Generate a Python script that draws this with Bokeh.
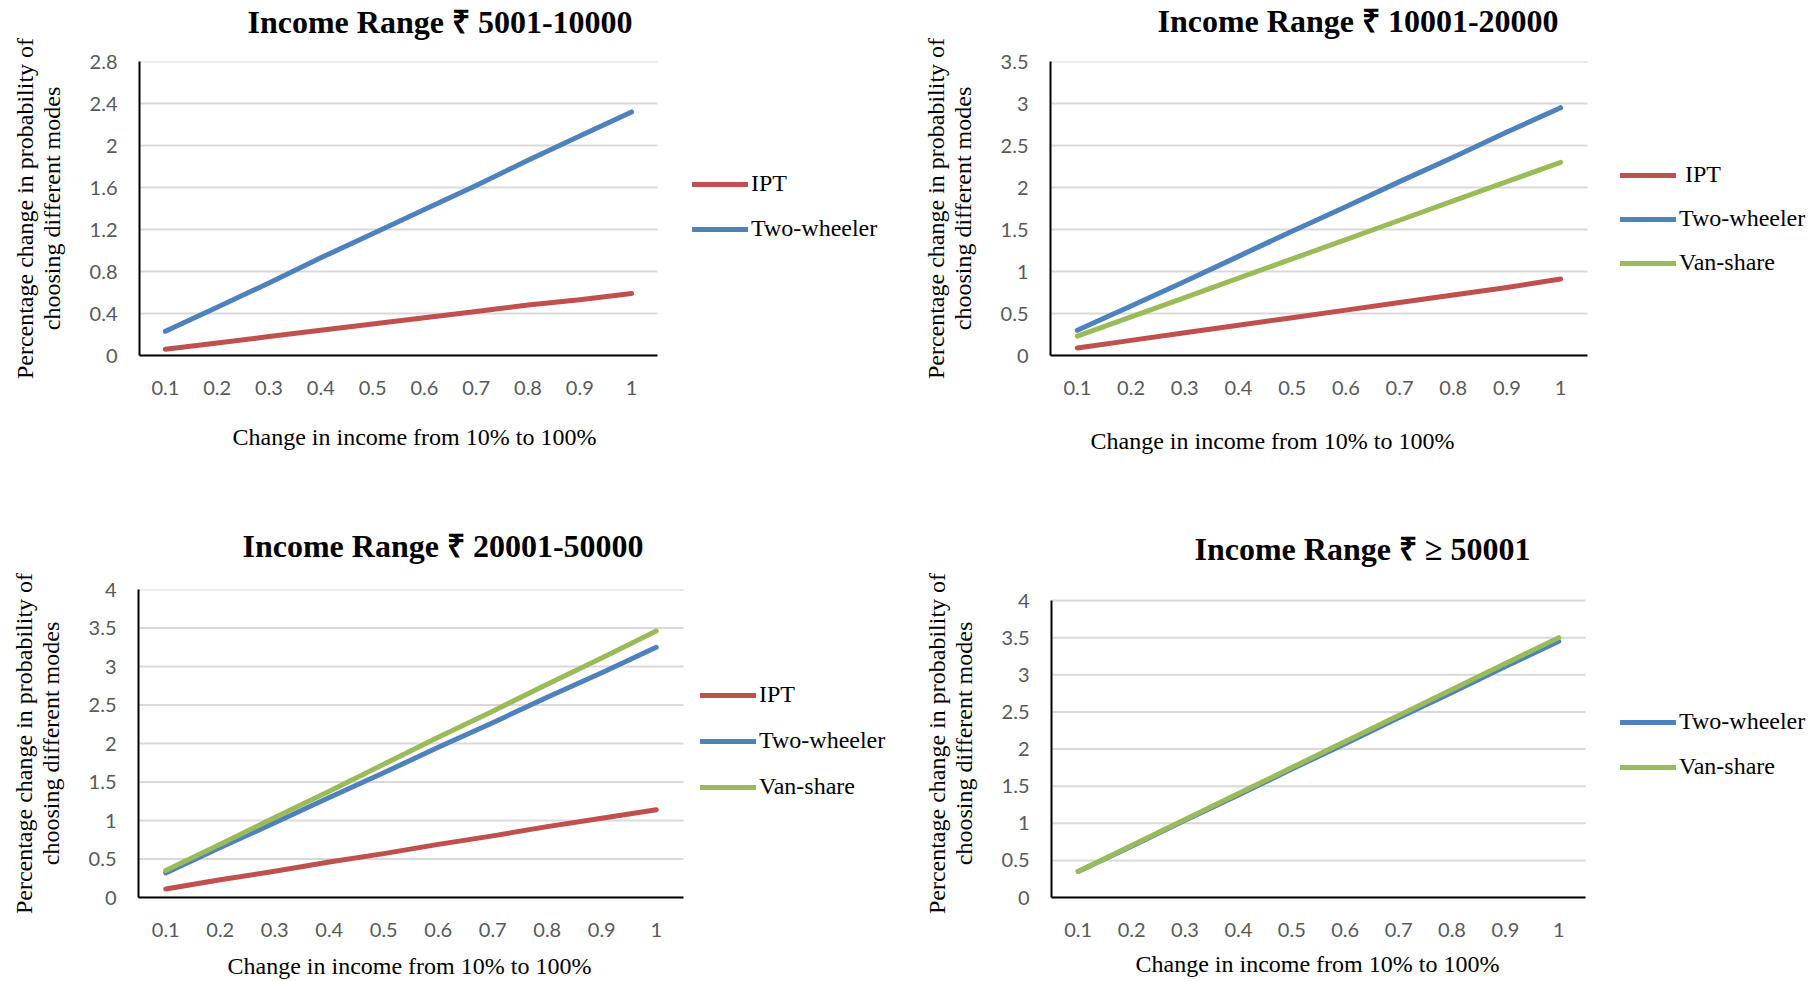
from bokeh.plotting import figure
from bokeh.models import (Range1d, FixedTicker, CustomJSTickFormatter, LinearAxis,
                          Legend, LegendItem, Title)
from bokeh.layouts import column, row
from bokeh.embed import file_html
from bokeh.resources import INLINE

# Change in income (share of income added)
income_levels = [0.1, 0.2, 0.3, 0.4, 0.5, 0.6, 0.7, 0.8, 0.9, 1.0]
income_steps = ["0.1", "0.2", "0.3", "0.4", "0.5", "0.6", "0.7", "0.8", "0.9", "1"]

# Income range 5001-10000
ipt_5k = [0.06, 0.12, 0.18, 0.24, 0.30, 0.36, 0.42, 0.48, 0.53, 0.59]
two_5k = [0.23, 0.46, 0.69, 0.93, 1.16, 1.39, 1.62, 1.86, 2.09, 2.32]

# Income range 10001-20000
ipt_10k = [0.09, 0.18, 0.27, 0.36, 0.45, 0.54, 0.63, 0.72, 0.81, 0.91]
two_10k = [0.30, 0.59, 0.88, 1.18, 1.48, 1.77, 2.07, 2.36, 2.66, 2.95]
van_10k = [0.23, 0.46, 0.69, 0.92, 1.15, 1.38, 1.61, 1.84, 2.07, 2.30]

# Income range 20001-50000
ipt_20k = [0.11, 0.23, 0.34, 0.46, 0.57, 0.69, 0.80, 0.92, 1.03, 1.14]
two_20k = [0.32, 0.65, 0.97, 1.30, 1.62, 1.95, 2.27, 2.60, 2.92, 3.25]
van_20k = [0.35, 0.69, 1.04, 1.38, 1.73, 2.08, 2.42, 2.77, 3.11, 3.46]

# Income range >= 50001
two_50k = [0.35, 0.69, 1.04, 1.38, 1.73, 2.07, 2.42, 2.76, 3.11, 3.45]
van_50k = [0.35, 0.70, 1.05, 1.40, 1.75, 2.10, 2.45, 2.80, 3.15, 3.50]

# y-axis ticks per panel
yticks_5k = [0, 0.4, 0.8, 1.2, 1.6, 2, 2.4, 2.8]
yticks_10k = [0, 0.5, 1, 1.5, 2, 2.5, 3, 3.5]
yticks_20k = [0, 0.5, 1, 1.5, 2, 2.5, 3, 3.5, 4]
yticks_50k = [0, 0.5, 1, 1.5, 2, 2.5, 3, 3.5, 4]

COLORS = {"IPT": "#C0504D", "Two-wheeler": "#4F81BD", "Van-share": "#9BBB59"}
SERIF = "Liberation Serif"
TICK_FONT = "Lato"
X_TITLE = "Change in income from 10% to 100%"
Y_TITLE = "Percentage change in probability of\nchoosing different modes"

# x extent of the plotted category band (half a step either side of the ends)
X_LO, X_HI = 0.05, 1.05
RIGHT_PAD = 2


def spacer(gap):
    """Blank axis (one white tick, no label) that reserves `gap` pixels in a side panel."""
    return LinearAxis(ticker=FixedTicker(ticks=[X_LO]), axis_line_color=None,
                      major_tick_line_color="white", minor_tick_line_color=None,
                      major_tick_in=0, major_tick_out=gap, minor_tick_in=0,
                      minor_tick_out=0, major_label_standoff=0,
                      major_label_text_color=None, major_label_text_font_size="0px")


def make_panel(title, series, yticks, width, height, left, top, bottom, data_right,
               data_top, title_offset, title_gap, xtitle_offset, xtitle_gap,
               legend_pos, legend_spacing, ipt_label="IPT"):
    # the frame runs to the right edge so the legend sits inside it;
    # the data band [X_LO, X_HI] covers `data_right - left` pixels
    frame_w = width - left - RIGHT_PAD
    x_end = X_LO + (X_HI - X_LO) * frame_w / (data_right - left)
    # the value axis may stop below the top of the frame
    frame_h = height - top - bottom
    y_end = yticks[-1] * frame_h / (height - bottom - data_top)

    p = figure(width=width, height=height, x_range=Range1d(X_LO, x_end),
               y_range=Range1d(yticks[0], y_end), output_backend="svg",
               toolbar_location=None, min_border_left=left, min_border_right=RIGHT_PAD,
               min_border_top=top, min_border_bottom=bottom, title=None)
    p.outline_line_color = None
    p.background_fill_color = "white"
    p.border_fill_color = "white"
    p.xgrid.grid_line_color = None
    p.ygrid.grid_line_color = None

    xaxis = p.xaxis[0]
    yaxis = p.yaxis[0]
    xaxis.ticker = FixedTicker(ticks=income_levels)
    xaxis.major_label_overrides = dict(zip(income_levels, income_steps))
    xaxis.bounds = (X_LO, X_HI)
    yaxis.ticker = FixedTicker(ticks=yticks)
    yaxis.formatter = CustomJSTickFormatter(code="return String(Number(tick.toFixed(2)));")
    yaxis.bounds = (yticks[0], yticks[-1])

    for ax in (xaxis, yaxis):
        ax.axis_line_color = "black"
        ax.axis_line_width = 2
        ax.major_tick_line_color = None
        ax.minor_tick_line_color = None
        ax.major_tick_out = 0
        ax.major_tick_in = 0
        ax.minor_tick_out = 0
        ax.minor_tick_in = 0
        ax.major_label_text_font = TICK_FONT
        ax.major_label_text_font_size = "20px"
        ax.major_label_text_color = "#595959"
    xaxis.major_label_standoff = 25
    yaxis.major_label_standoff = 22

    # y-axis title, two lines
    yaxis.axis_label = Y_TITLE
    yaxis.axis_label_text_font = SERIF
    yaxis.axis_label_text_font_size = "24px"
    yaxis.axis_label_text_font_style = "normal"
    yaxis.axis_label_text_color = "black"
    yaxis.axis_label_text_line_height = 1.02
    yaxis.axis_label_standoff = 22

    # horizontal gridlines across the data band
    p.segment(x0=[X_LO] * len(yticks), y0=yticks, x1=[X_HI] * len(yticks), y1=yticks,
              line_color="#D9D9D9", line_width=2)

    # chart title above, x-axis title below
    p.add_layout(spacer(title_gap), "above")
    p.add_layout(Title(text=title, align="left", offset=title_offset,
                       vertical_align="top", standoff=0, text_font=SERIF,
                       text_font_style="bold", text_font_size="32px",
                       text_color="black"), "above")
    p.add_layout(spacer(xtitle_gap), "below")
    p.add_layout(Title(text=X_TITLE, align="left", offset=xtitle_offset,
                       vertical_align="top", standoff=0, text_font=SERIF,
                       text_font_size="24px", text_font_style="normal",
                       text_color="black"), "below")

    items = []
    for name, vals in series:
        r = p.line(income_levels, vals, line_color=COLORS[name], line_width=5,
                   line_cap="round", line_join="round")
        items.append(LegendItem(label=ipt_label if name == "IPT" else name, renderers=[r]))
    legend = Legend(items=items, location=legend_pos, orientation="vertical",
                    glyph_width=56, glyph_height=24, label_height=24,
                    label_standoff=3, spacing=legend_spacing, padding=0, margin=0,
                    border_line_color=None, background_fill_alpha=0,
                    label_text_font=SERIF, label_text_font_size="24px",
                    label_text_color="black")
    p.add_layout(legend)
    return p


p1 = make_panel("Income Range ₹ 5001-10000",
                [("IPT", ipt_5k), ("Two-wheeler", two_5k)], yticks_5k,
                905, 490, 139, 61, 135, 657, 61, 108, 20, 93, 26, (553, 113), 18)
p2 = make_panel("Income Range ₹ 10001-20000",
                [("IPT", ipt_10k), ("Two-wheeler", two_10k), ("Van-share", van_10k)],
                yticks_10k, 906, 490, 145, 61, 135, 682, 61, 107, 21, 40, 30,
                (570, 79), 17, ipt_label=" IPT")
p3 = make_panel("Income Range ₹ 20001-50000",
                [("IPT", ipt_20k), ("Two-wheeler", two_20k), ("Van-share", van_20k)],
                yticks_20k, 905, 491, 138, 99, 84, 683, 99, 104, 24, 89, 13,
                (562, 97), 19)
p4 = make_panel("Income Range ₹ ≥ 50001",
                [("Two-wheeler", two_50k), ("Van-share", van_50k)],
                yticks_50k, 906, 491, 146, 99, 84, 680, 110, 143, 21, 84, 11,
                (569, 117), 18)

layout = column(row(p1, p2), row(p3, p4))
open("out.html", "w").write(file_html(layout, INLINE))
